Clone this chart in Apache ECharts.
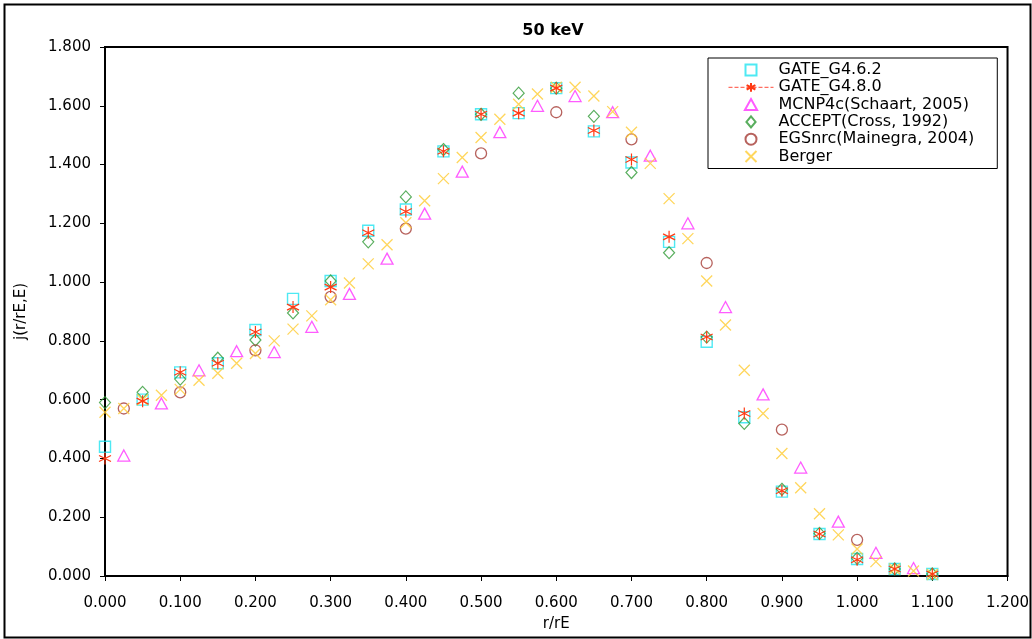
<!DOCTYPE html>
<html><head><meta charset="utf-8">
<script src="https://cdn.jsdelivr.net/npm/echarts@6/dist/echarts.min.js"></script>
<style>html,body{margin:0;padding:0;background:#fff}#c{width:1032px;height:639px}</style>
</head><body><div id="c"></div>
<script>
// r/rE positions
const xGate = [0,0.05,0.1,0.15,0.2,0.25,0.3,0.35,0.4,0.45,0.5,0.55,0.6,0.65,0.7,0.75,0.8,0.85,0.9,0.95,1.0,1.05,1.1];
const xMcnp = [0.025,0.075,0.125,0.175,0.225,0.275,0.325,0.375,0.425,0.475,0.525,0.575,0.625,0.675,0.725,0.775,0.825,0.875,0.925,0.975,1.025,1.075];
const xEgs = [0.025,0.1,0.2,0.3,0.4,0.5,0.6,0.7,0.8,0.9,1.0];
const xBerger = [0,0.025,0.05,0.075,0.1,0.125,0.15,0.175,0.2,0.225,0.25,0.275,0.3,0.325,0.35,0.375,0.4,0.425,0.45,0.475,0.5,0.525,0.55,0.575,0.6,0.625,0.65,0.675,0.7,0.725,0.75,0.775,0.8,0.825,0.85,0.875,0.9,0.925,0.95,0.975,1.0,1.025,1.05,1.075,1.1];

// j(r/rE,E) values
const gate462 = [0.44,0.60,0.693,0.724,0.837,0.943,1.004,1.175,1.247,1.445,1.571,1.575,1.66,1.513,1.407,1.137,0.797,0.54,0.287,0.143,0.058,0.024,0.007];
const gate480 = [0.40,0.595,0.693,0.724,0.83,0.915,0.983,1.168,1.24,1.445,1.571,1.575,1.66,1.516,1.417,1.154,0.813,0.553,0.29,0.143,0.055,0.024,0.007];
const mcnp = [0.41,0.587,0.70,0.765,0.762,0.848,0.96,1.08,1.233,1.376,1.51,1.60,1.633,1.578,1.43,1.20,0.915,0.618,0.369,0.185,0.079,0.027];
const accept = [0.59,0.625,0.67,0.741,0.803,0.895,1.004,1.137,1.29,1.451,1.571,1.643,1.66,1.564,1.373,1.10,0.813,0.519,0.295,0.145,0.06,0.024,0.007];
const egs = [0.57,0.625,0.768,0.95,1.182,1.438,1.578,1.486,1.065,0.498,0.123];
const berger = [0.557,0.57,0.60,0.615,0.635,0.666,0.69,0.724,0.757,0.80,0.84,0.885,0.94,0.997,1.062,1.127,1.202,1.277,1.352,1.424,1.492,1.554,1.605,1.64,1.663,1.663,1.633,1.58,1.51,1.404,1.284,1.148,1.004,0.854,0.70,0.553,0.417,0.30,0.212,0.14,0.092,0.049,0.024,0.017,0.005];

const names = ['GATE_G4.6.2','GATE_G4.8.0','MCNP4c(Schaart, 2005)','ACCEPT(Cross, 1992)','EGSnrc(Mainegra, 2004)','Berger'];

function pairs(xs, ys){ return xs.map((x,i)=>[x, ys[i]]); }

const ASTER = 'path://M6,0L6,12M1,3L11,9M1,9L11,3';
const XMARK = 'path://M0,0L10,10M0,10L10,0';
const SQ = 'path://M0,0L10,0L10,10L0,10Z';
const TRI = 'path://M5,0L10,9L0,9Z';
const DIA = 'path://M5,0L10,6L5,12L0,6Z';
const CIR = 'path://M0,5A5,5,0,1,1,10,5A5,5,0,1,1,0,5Z';
const FONT = 'DejaVu Sans';

function scat(name, data, symbol, size, color, bw){
  return {name, type:'scatter', data, symbol, symbolSize:size,
    itemStyle:{color:'rgba(0,0,0,0)', borderColor:color, borderWidth:bw||1.2},
    emphasis:{disabled:true}};
}

const chart = echarts.init(document.getElementById('c'), null, {renderer:'canvas'});
chart.setOption({
  animation:false,
  backgroundColor:'#fff',
  title:{text:'50 keV', left:548, top:18, textAlign:'center',
    textStyle:{fontFamily:FONT, fontSize:16, fontWeight:'bold', color:'#000'}},
  grid:{left:105, right:23, top:47, bottom:63, show:true, borderColor:'#000', borderWidth:2, backgroundColor:'#fff'},
  legend:{orient:'vertical', left:708, top:58, padding:[4,23,4,20],
    backgroundColor:'#fff', borderColor:'#000', borderWidth:1,
    itemWidth:45, itemHeight:11, itemGap:1.3, symbolKeepAspect:true,
    textStyle:{fontFamily:FONT, fontSize:16, color:'#000', lineHeight:14},
    data:[
      {name:names[0], icon:SQ},
      {name:names[1], lineStyle:{opacity:1, type:'dashed', color:'#ff4a3a', width:1}},
      {name:names[2], icon:TRI},
      {name:names[3], icon:DIA},
      {name:names[4], icon:CIR},
      {name:names[5], icon:XMARK}
    ]},
  xAxis:{type:'value', min:0, max:1.2, interval:0.1,
    name:'r/rE', nameLocation:'middle', nameGap:41,
    nameTextStyle:{fontFamily:FONT, fontSize:15, color:'#000'},
    axisLine:{show:true, onZero:false, lineStyle:{color:'#000', width:2}},
    axisTick:{show:true, inside:false, length:5, lineStyle:{color:'#000'}},
    axisLabel:{fontFamily:FONT, fontSize:15, color:'#000', margin:20, formatter:v=>v.toFixed(3)},
    splitLine:{show:false}},
  yAxis:{type:'value', min:0, max:1.8, interval:0.2,
    name:'j(r/rE,E)', nameLocation:'middle', nameGap:76, nameRotate:90,
    nameTextStyle:{fontFamily:FONT, fontSize:15, color:'#000'},
    axisLine:{show:true, onZero:false, lineStyle:{color:'#000', width:2}},
    axisTick:{show:true, inside:false, length:5, lineStyle:{color:'#000'}},
    axisLabel:{fontFamily:FONT, fontSize:15, color:'#000', margin:14, formatter:v=>v.toFixed(3)},
    splitLine:{show:false}},
  graphic:[{type:'rect', left:2, top:2, shape:{width:1026, height:633},
    style:{fill:'none', stroke:'#000', lineWidth:2}, z:-1, silent:true}],
  series:[
    scat(names[0], pairs(xGate, gate462), 'rect', 11, '#22e4f0', 1.4),
    {name:names[1], type:'line', data:pairs(xGate, gate480), symbol:ASTER, symbolSize:12, showSymbol:true,
      lineStyle:{opacity:0}, itemStyle:{color:'rgba(0,0,0,0)', borderColor:'#ff3a14', borderWidth:1.2},
      emphasis:{disabled:true}},
    scat(names[2], pairs(xMcnp, mcnp), 'triangle', [12,11], '#ff33ff', 1.3),
    scat(names[3], pairs(xGate, accept), 'diamond', [11,12], '#2f9a36', 1.2),
    scat(names[4], pairs(xEgs, egs), 'circle', 11, '#a53b34', 1.3),
    scat(names[5], pairs(xBerger, berger), XMARK, 11, '#ffcc33', 1.3)
  ]
});
</script></body></html>
